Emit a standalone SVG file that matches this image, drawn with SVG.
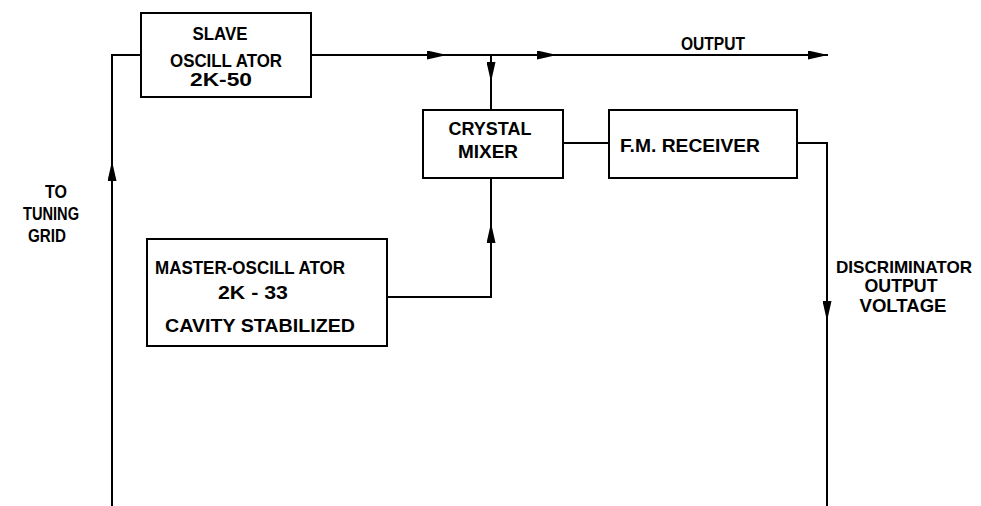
<svg xmlns="http://www.w3.org/2000/svg" width="981" height="506" viewBox="0 0 981 506">
<style>
.box{fill:#fff;stroke:#000;stroke-width:2}
.ln{fill:none;stroke:#000;stroke-width:2}
text{font-family:"Liberation Sans",Arial,sans-serif;font-weight:bold;font-size:19px;fill:#000}
.m{text-anchor:middle}
</style>
<defs>
<marker id="ar" viewBox="0 0 20 9" refX="20" refY="4.5" markerWidth="20" markerHeight="9" markerUnits="userSpaceOnUse" orient="auto">
<path d="M0,0 L20,4.5 L0,9 Z" fill="#000"/>
</marker>
</defs>
<rect width="981" height="506" fill="#fff"/>
<g id="connectors">
<path class="ln" d="M112,506 V161" marker-end="url(#ar)"/>
<path class="ln" d="M112,170 V55 H141"/>
<path class="ln" d="M311,55 H447" marker-end="url(#ar)"/>
<path class="ln" d="M440,55 H557" marker-end="url(#ar)"/>
<path class="ln" d="M550,55 H828" marker-end="url(#ar)"/>
<path class="ln" d="M491,55 V82" marker-end="url(#ar)"/>
<path class="ln" d="M491,75 V110"/>
<path class="ln" d="M387,297 H491 V223" marker-end="url(#ar)"/>
<path class="ln" d="M491,230 V178"/>
<path class="ln" d="M563,143 H609"/>
<path class="ln" d="M797,143 H827 V321" marker-end="url(#ar)"/>
<path class="ln" d="M827,314 V506"/>
</g>
<g id="slave">
<rect class="box" x="141" y="13" width="170" height="84"/>
<text class="m" x="220" y="40" textLength="55" lengthAdjust="spacingAndGlyphs">SLAVE</text>
<text class="m" x="226" y="67" textLength="112" lengthAdjust="spacingAndGlyphs">OSCILL ATOR</text>
<text class="m" x="221" y="86" textLength="62" lengthAdjust="spacingAndGlyphs">2K-50</text>
</g>
<g id="output-label">
<text x="681" y="50" textLength="64" lengthAdjust="spacingAndGlyphs">OUTPUT</text>
</g>
<g id="mixer">
<rect class="box" x="423" y="110" width="140" height="68"/>
<text class="m" x="490" y="135" textLength="83" lengthAdjust="spacingAndGlyphs">CRYSTAL</text>
<text class="m" x="488" y="158" textLength="60" lengthAdjust="spacingAndGlyphs">MIXER</text>
</g>
<g id="receiver">
<rect class="box" x="609" y="110" width="188" height="68"/>
<text x="620" y="152" textLength="140" lengthAdjust="spacingAndGlyphs">F.M. RECEIVER</text>
</g>
<g id="master">
<rect class="box" x="147" y="239" width="240" height="107"/>
<text x="155" y="274" textLength="190" lengthAdjust="spacingAndGlyphs">MASTER-OSCILL ATOR</text>
<text class="m" x="253" y="299" textLength="70" lengthAdjust="spacingAndGlyphs">2K - 33</text>
<text class="m" x="260" y="332" textLength="190" lengthAdjust="spacingAndGlyphs">CAVITY  STABILIZED</text>
</g>
<g id="tuning-label">
<text class="m" x="56" y="198" textLength="22" lengthAdjust="spacingAndGlyphs">TO</text>
<text class="m" x="51" y="220" textLength="56" lengthAdjust="spacingAndGlyphs">TUNING</text>
<text class="m" x="47" y="242" textLength="38" lengthAdjust="spacingAndGlyphs">GRID</text>
</g>
<g id="disc-label">
<text x="836" y="273" style="font-size:17px" textLength="136" lengthAdjust="spacingAndGlyphs">DISCRIMINATOR</text>
<text class="m" x="901" y="292" textLength="73" lengthAdjust="spacingAndGlyphs">OUTPUT</text>
<text class="m" x="903" y="312" textLength="87" lengthAdjust="spacingAndGlyphs">VOLTAGE</text>
</g>
</svg>
